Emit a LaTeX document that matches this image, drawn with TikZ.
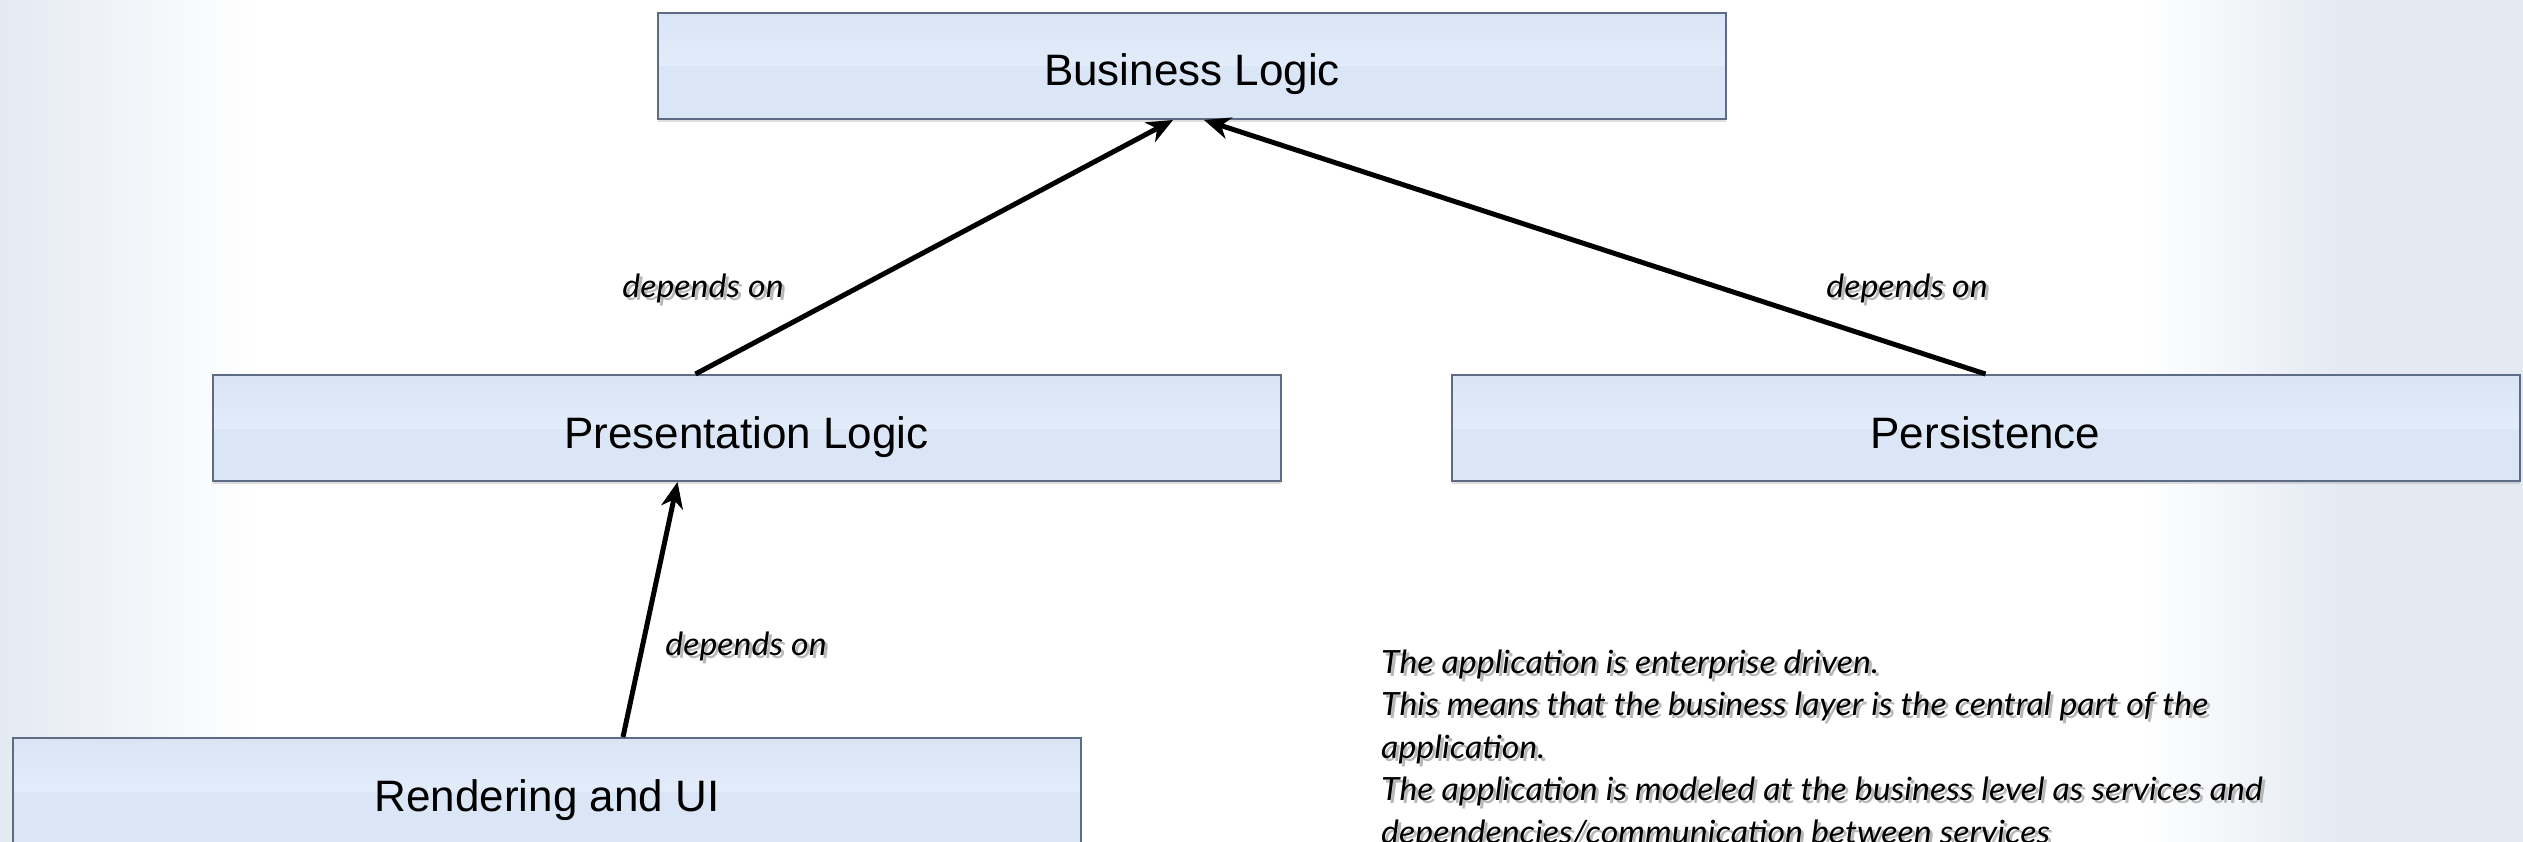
\documentclass[tikz,border=0pt]{standalone}
\usepackage{fontspec}
\setsansfont{Liberation Sans}
\newfontfamily\notefont{Lato}[FakeStretch=1.06]
\usetikzlibrary{arrows.meta,shadows}

\definecolor{bgblue}{HTML}{E4EAF2}
\definecolor{boxtop}{HTML}{D9E4F5}
\definecolor{boxmid}{HTML}{E2ECFA}
\definecolor{boxlow}{HTML}{DAE5F5}
\definecolor{boxedge}{HTML}{5D6B84}
\definecolor{shadowgray}{HTML}{B8B8B8}

% italic note text with a soft offset shadow
\newcommand\shd[1]{\leavevmode\rlap{\kern3pt\raisebox{-3pt}{\color{shadowgray}#1}}#1}

\begin{document}
\begin{tikzpicture}[x=1pt,y=-1pt,
  layerbox/.style={draw=boxedge, line width=2pt, minimum width=1068pt,
    minimum height=106pt, inner sep=0pt, text height=40pt, text depth=0pt,
    font=\sffamily\fontsize{44}{50}\selectfont,
    drop shadow={shadow xshift=0pt, shadow yshift=-3pt, opacity=0.25},
    path picture={
      \fill[boxlow] (path picture bounding box.south west) rectangle (path picture bounding box.east);
      \shade[top color=boxtop, bottom color=boxmid] (path picture bounding box.north west) rectangle (path picture bounding box.east);
    }},
  dep/.style={line width=5pt, -{Stealth[length=26pt, width=22pt, inset=8pt]}},
  lbl/.style={font=\notefont\itshape\fontsize{32}{40}\selectfont, inner sep=0pt, anchor=base},
  notes/.style={lbl, anchor=base west}
]
\useasboundingbox (0,0) rectangle (2523,842);

% page background
\fill[white] (0,0) rectangle (2523,842);
\shade[left color=bgblue, right color=white] (0,0) rectangle (260,842);
\shade[left color=white, right color=bgblue] (2140,0) rectangle (2340,842);
\fill[bgblue] (2340,0) rectangle (2523,842);

% layers
\node[layerbox] (bl)   at (1192,66)   {Business Logic};
\node[layerbox] (pres) at (746.5,428) {Presentation Logic};
\node[layerbox] (pers) at (1985.5,428){Persistence};
\node[layerbox] (rend) at (547,791)   {Rendering and UI};

% dependencies
\draw[dep] ([xshift=-51pt]pres.north) -- ([xshift=-19pt]bl.south);
\draw[dep] (pers.north) -- ([xshift=12pt]bl.south);
\draw[dep] ([xshift=76pt]rend.north) -- ([xshift=-69pt]pres.south);

\node[lbl] (d1) at (703,297)  {\shd{depends on}};
\node[lbl] (d2) at (1907,297) {\shd{depends on}};
\node[lbl] (d3) at (746,655)  {\shd{depends on}};

% explanatory note
\node[notes] (n1) at (1381,673)   {\shd{The application is enterprise driven.}};
\node[notes] (n2) at (1381,715.5) {\shd{This means that the business layer is the central part of the}};
\node[notes] (n3) at (1381,758)   {\shd{application.}};
\node[notes] (n4) at (1381,800.5) {\shd{The application is modeled at the business level as services and}};
\node[notes] (n5) at (1381,843)   {\shd{dependencies/communication between services}};
\end{tikzpicture}
\end{document}
